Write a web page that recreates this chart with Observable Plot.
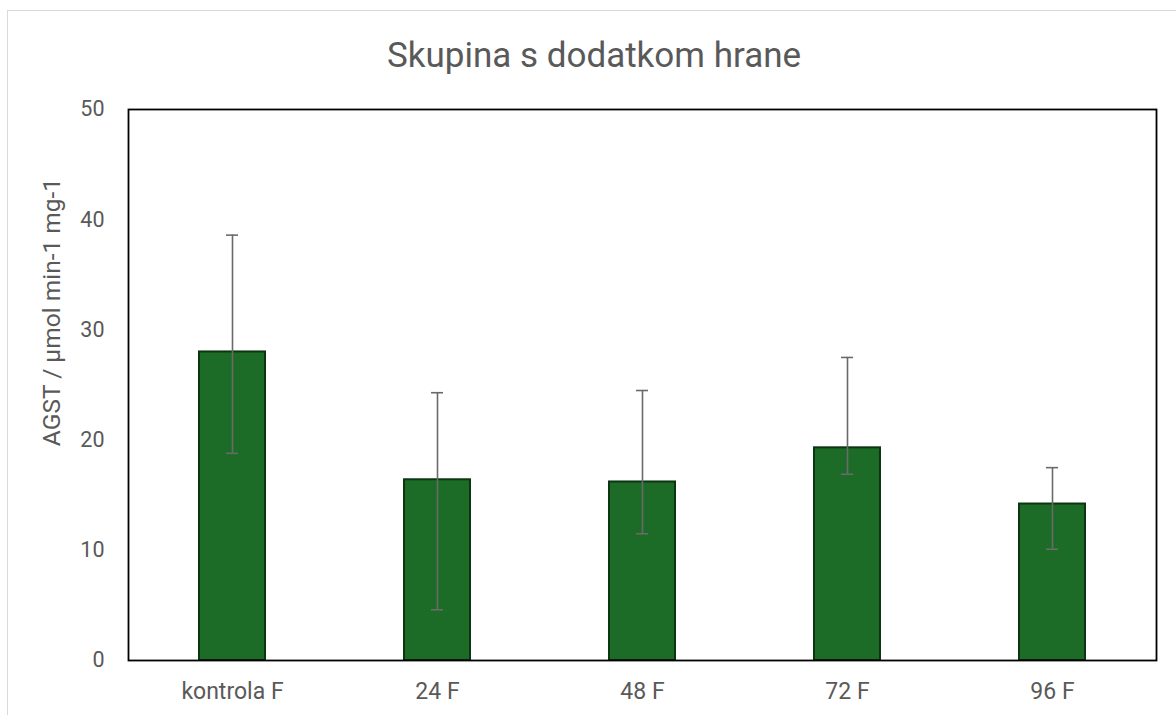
<!DOCTYPE html>
<html><head><meta charset="utf-8">
<script src="https://cdn.jsdelivr.net/npm/d3@7"></script>
<script src="https://cdn.jsdelivr.net/npm/@observablehq/plot@0.6"></script>
<style>
body{margin:0;background:#fff;}
#wrap{position:relative;width:1176px;height:715px;overflow:hidden;font-family:Roboto, sans-serif;}
#border{position:absolute;left:7px;top:10px;width:1200px;height:760px;border:1px solid #d9d9d9;}
#title{position:absolute;left:0;width:1188px;top:38px;line-height:1;text-align:center;font-size:35px;color:#595959;}
#chart{position:absolute;left:0;top:0;}
</style></head><body>
<div id="wrap"><div id="border"></div><div id="title">Skupina s dodatkom hrane</div><div id="chart"></div></div>
<script>
const categories = ["kontrola F", "24 F", "48 F", "72 F", "96 F"];
const means = [28.0, 16.4, 16.2, 19.3, 14.2];
const lower = [18.8, 4.6, 11.5, 16.9, 10.1];
const upper = [38.6, 24.3, 24.5, 27.5, 17.5];
const yTicks = [0, 10, 20, 30, 40, 50];
const yTitle = "AGST / µmol min-1 mg-1";

const data = categories.map((c, i) => ({cat: c, mean: means[i], lo: lower[i], hi: upper[i]}));

const plot = Plot.plot({
  width: 1176, height: 715,
  marginLeft: 128, marginRight: 20, marginTop: 109, marginBottom: 55,
  style: {fontFamily: "Roboto, sans-serif", fontSize: "21.5px", color: "#595959", background: "transparent", overflow: "visible"},
  x: {domain: categories, paddingInner: 0.679, paddingOuter: 0.3395, label: null},
  y: {domain: [0, 50], label: null},
  marks: [
    Plot.barY(data, {x: "cat", y: "mean", fill: "#1c6b27", stroke: "#0c3512", strokeWidth: 2}),
    Plot.ruleX(data, {x: "cat", y1: "lo", y2: "hi", stroke: "#6a6a6a", strokeWidth: 1.6}),
    Plot.tickY(data, {x: "cat", y: "lo", stroke: "#6a6a6a", strokeWidth: 1.6, insetLeft: 27, insetRight: 27}),
    Plot.tickY(data, {x: "cat", y: "hi", stroke: "#6a6a6a", strokeWidth: 1.6, insetLeft: 27, insetRight: 27}),
    Plot.frame({stroke: "#000", strokeWidth: 1.8}),
    Plot.axisY({ticks: yTicks, tickSize: 0, tickPadding: 24, label: null, fill: "#595959"}),
    Plot.axisX({tickSize: 0, tickPadding: 22, label: null, fill: "#595959", fontSize: 23}),
    Plot.text([yTitle], {text: d => d, frameAnchor: "left", textAnchor: "middle", dx: -76, dy: -73, rotate: -90, fontSize: 24.5, fill: "#595959"})
  ]
});
document.getElementById("chart").appendChild(plot);
</script>
</body></html>
